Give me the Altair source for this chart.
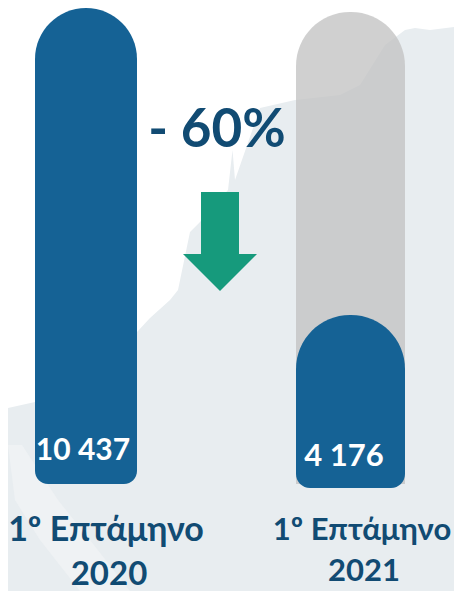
import altair as alt
import pandas as pd

# --- values ---
periods = ["2020", "2021"]
values = [10437, 4176]
value_labels = ["10 437", "4 176"]
# Level the 2021 bar is actually drawn to in the picture (it is not to scale with its label)
drawn_2021 = 3705
ghost_2021 = 10350
below_base_2021 = -88
change_label = "- 60%"
label_line1 = "1º Επτάμηνο"

# Backdrop outline and arrow, in picture units
map_x = [8, 35, 90, 137, 150, 170, 178, 190, 200, 228, 235, 232.5, 260, 295, 340, 360, 385, 405, 415, 430, 454]
map_top = [408, 402, 370, 332, 318, 300, 290, 232, 222, 190, 180, 150, 108, 100, 95, 85, 45, 30, 28, 30, 27]
strip_y = [445, 500, 540, 591]
strip_x1 = [8, 15, 40, 80]
strip_x2 = [22, 58, 90, 130]
arrow_y = [192, 254, 254, 291]
arrow_x1 = [201, 201, 183, 220]
arrow_x2 = [239, 239, 257, 220]

BLUE = "#156295"
INK = "#114b73"
FONT = "Lato"

stage_x = alt.Scale(domain=[8, 454], nice=False, zero=False)
stage_y = alt.Scale(domain=[591, 8], nice=False, zero=False)
value_y = alt.Scale(domain=[-2346, 10437], range=[583, 0], nice=False, zero=False)
cat_x = alt.Scale(type="point", domain=periods, range=[78, 342.5], padding=0)


def X(f):
    return alt.X(f, type="quantitative", scale=stage_x, axis=None)


def Y(f):
    return alt.Y(f, type="quantitative", scale=stage_y, axis=None)


backdrop = (
    alt.Chart(pd.DataFrame({"x": map_x, "top": map_top}))
    .transform_calculate(bottom="591")
    .mark_area(color="#e8edf0", interpolate="linear")
    .encode(x=X("x:Q"), y=Y("top:Q"), y2=alt.Y2("bottom:Q"))
)
strip = (
    alt.Chart(pd.DataFrame({"y": strip_y, "x1": strip_x1, "x2": strip_x2}))
    .mark_area(color="#eff2f4", orient="horizontal", interpolate="linear")
    .encode(y=Y("y:Q"), x=X("x1:Q"), x2=alt.X2("x2:Q"))
)

bars_df = pd.DataFrame(
    {
        "period": periods,
        "value": [values[0], drawn_2021],
        "base": [0, below_base_2021],
    }
)


def CX():
    return alt.X("period:N", scale=cat_x, axis=None)


def VY(f):
    return alt.Y(f, type="quantitative", scale=value_y, axis=None)


ghost = (
    alt.Chart(pd.DataFrame({"period": ["2021"], "value": [ghost_2021], "base": [0]}))
    .mark_bar(size=109, color="#c3c3c3", opacity=0.78, cornerRadiusTopLeft=54, cornerRadiusTopRight=54)
    .encode(x=CX(), y=VY("value:Q"), y2=alt.Y2("base:Q"))
)
bar_2020 = (
    alt.Chart(bars_df[bars_df.period == "2020"])
    .mark_bar(size=102, color=BLUE, cornerRadiusTopLeft=51, cornerRadiusTopRight=51,
              cornerRadiusBottomLeft=13, cornerRadiusBottomRight=13)
    .encode(x=CX(), y=VY("value:Q"), y2=alt.Y2("base:Q"))
)
bar_2021 = (
    alt.Chart(bars_df[bars_df.period == "2021"])
    .mark_bar(size=109, color=BLUE, cornerRadiusTopLeft=54, cornerRadiusTopRight=54,
              cornerRadiusBottomLeft=14, cornerRadiusBottomRight=14)
    .encode(x=CX(), y=VY("value:Q"), y2=alt.Y2("base:Q"))
)
bars = alt.layer(ghost, bar_2020, bar_2021)

arrow = (
    alt.Chart(pd.DataFrame({"y": arrow_y, "x1": arrow_x1, "x2": arrow_x2}))
    .mark_area(color="#169a7c", orient="horizontal", interpolate="linear")
    .encode(y=Y("y:Q"), x=X("x1:Q"), x2=alt.X2("x2:Q"))
)

texts = pd.DataFrame(
    [
        {"t": change_label, "x": 217, "y": 147, "s": 53, "c": INK},
        {"t": value_labels[0], "x": 83, "y": 460, "s": 30, "c": "#ffffff"},
        {"t": value_labels[1], "x": 344, "y": 466, "s": 31, "c": "#ffffff"},
        {"t": label_line1, "x": 106, "y": 541, "s": 34, "c": INK},
        {"t": periods[0], "x": 109, "y": 585, "s": 33, "c": INK},
        {"t": label_line1, "x": 362, "y": 540, "s": 31, "c": INK},
        {"t": periods[1], "x": 364, "y": 581, "s": 31, "c": INK},
    ]
)

labels = alt.layer(
    *[
        alt.Chart(texts.iloc[[i]])
        .mark_text(font=FONT, fontWeight="bold", fontSize=int(r.s), color=r.c, align="center", baseline="alphabetic")
        .encode(x=X("x:Q"), y=Y("y:Q"), text="t:N")
        for i, r in enumerate(texts.itertuples())
    ]
)

chart = (
    alt.layer(backdrop, strip, bars, arrow, labels)
    .resolve_scale(x="independent", y="independent")
    .properties(width=446, height=583, padding=0, background="#ffffff")
    .configure_view(stroke=None)
)
chart.save("out.html", embed_options={"renderer": "svg", "actions": False})
